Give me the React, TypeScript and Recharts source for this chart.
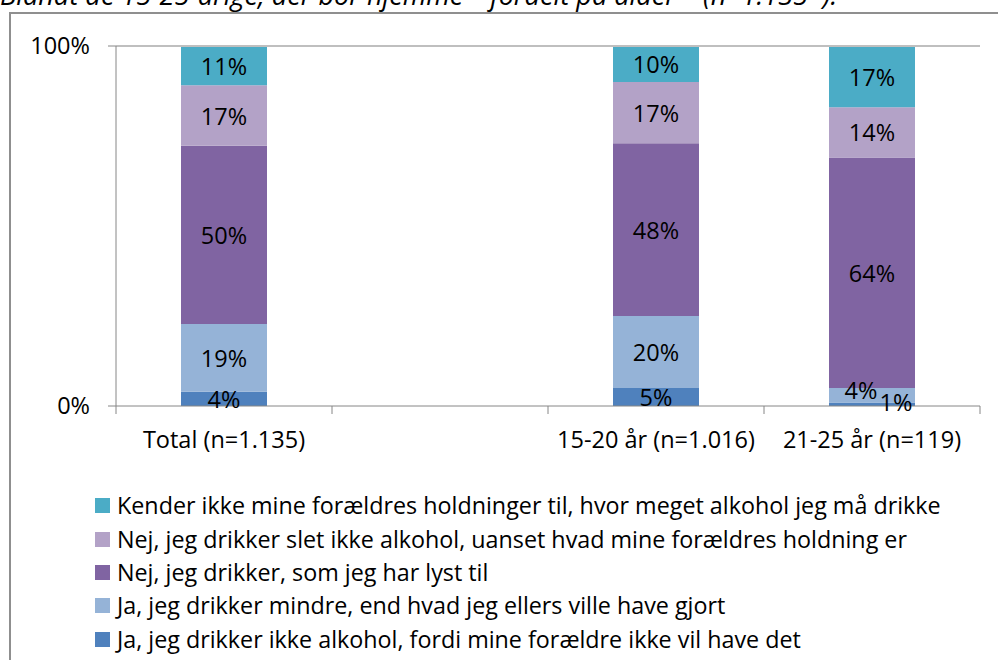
import React from "react";
import {
  Bar,
  BarChart,
  LabelList,
  ReferenceLine,
  XAxis,
  YAxis,
} from "recharts";

const categories = ["Total (n=1.135)", " ", "15-20 år (n=1.016)", "21-25 år (n=119)"];

// bottom -> top of each stack
const ikkeAlkohol = [4, null, 5, 1];
const drikkerMindre = [19, null, 20, 4];
const somLyst = [50, null, 48, 64];
const sletIkke = [17, null, 17, 14];
const kenderIkke = [11, null, 10, 17];

const yTicks = [0, 1];

const series = [
  { key: "ikkeAlkohol", name: "Ja, jeg drikker ikke alkohol, fordi mine forældre ikke vil have det", color: "#4F81BD", values: ikkeAlkohol },
  { key: "drikkerMindre", name: "Ja, jeg drikker mindre, end hvad jeg ellers ville have gjort", color: "#95B3D7", values: drikkerMindre },
  { key: "somLyst", name: "Nej, jeg drikker, som jeg har lyst til", color: "#8064A2", values: somLyst },
  { key: "sletIkke", name: "Nej, jeg drikker slet ikke alkohol, uanset hvad mine forældres holdning er", color: "#B3A2C7", values: sletIkke },
  { key: "kenderIkke", name: "Kender ikke mine forældres holdninger til, hvor meget alkohol jeg må drikke", color: "#4BACC6", values: kenderIkke },
];

const data = categories.map((name, i) => {
  const row: Record<string, string | number | null> = { name };
  series.forEach((s) => (row[s.key] = s.values[i]));
  return row;
});

const FONT = "'Open Sans', Lato, sans-serif";
const FS = 23.5;
const AXIS = "#868686";
const BORDER = "#BFBFBF";

const CHART_W = 998;
const CHART_H = 480;
const MARGIN = { top: 46, right: 18, left: 0, bottom: 0 };
const Y_W = 116;
const X_H = CHART_H - 406 - MARGIN.bottom;
const BAND = (CHART_W - MARGIN.left - MARGIN.right - Y_W) / categories.length;

// nudge the tiny labels in the last bar apart, like the original
const labelNudge: Record<string, Record<number, [number, number]>> = {
  drikkerMindre: { 3: [-11, -5] },
  ikkeAlkohol: { 3: [24, -2] },
};

const makeLabel = (key: string) => (props: any) => {
  const { x, y, width, height, value } = props;
  if (value == null) return null;
  const idx = Math.floor((x + width / 2 - MARGIN.left - Y_W) / BAND);
  const [dx, dy] = labelNudge[key]?.[idx] ?? [0, 0];
  return (
    <text
      x={x + width / 2 + dx}
      y={y + height / 2 + dy}
      textAnchor="middle"
      dominantBaseline="central"
      fontSize={FS}
      fontFamily={FONT}
      fill="#000"
    >
      {value}%
    </text>
  );
};

const CategoryTick = (props: any) => {
  const { x, y, payload, index } = props;
  const left = x - BAND / 2;
  return (
    <g>
      <line x1={left} y1={y - 8} x2={left} y2={y} stroke={AXIS} />
      {index === categories.length - 1 && (
        <line x1={x + BAND / 2} y1={y - 8} x2={x + BAND / 2} y2={y} stroke={AXIS} />
      )}
      <text x={x} y={y + 34} textAnchor="middle" fontSize={FS} fontFamily={FONT} fill="#000">
        {payload.value}
      </text>
    </g>
  );
};

export default function App() {
  return (
    <div style={{ position: "relative", width: 998, height: 660, overflow: "hidden", background: "#fff" }}>
      <style>{`body{margin:0}`}</style>
      <svg width={998} height={20} style={{ position: "absolute", left: 0, top: 0 }}>
        <text x={0} y={5} fontSize={27} fontStyle="italic" fontFamily={FONT} fill="#000">
          Blandt de 15-25-årige, der bor hjemme – fordelt på alder – (n=1.135*):
        </text>
      </svg>
      <div
        style={{
          position: "absolute",
          left: 9,
          top: 12,
          width: 1100,
          height: 800,
          border: "2px solid #8F8F8F",
          boxSizing: "border-box",
        }}
      />
      <div style={{ position: "absolute", left: 0, top: 0 }}>
        <BarChart width={CHART_W} height={CHART_H} data={data} margin={MARGIN} stackOffset="expand" barSize={86}>
          <XAxis
            dataKey="name"
            interval={0}
            tickLine={false}
            tickSize={8}
            tickMargin={0}
            height={X_H}
            axisLine={{ stroke: AXIS }}
            tick={<CategoryTick />}
          />
          <YAxis
            yAxisId="left"
            width={Y_W}
            domain={[0, 1]}
            ticks={yTicks}
            tickFormatter={(v: number) => `${Math.round(v * 100)}%`}
            tick={{ fontSize: FS, fill: "#000", fontFamily: FONT }}
            tickSize={8}
            tickMargin={18}
            tickLine={{ stroke: AXIS }}
            axisLine={{ stroke: AXIS }}
          />
          <YAxis
            yAxisId="right"
            orientation="right"
            width={0}
            domain={[0, 1]}
            tick={false}
            tickLine={false}
            axisLine={{ stroke: BORDER, strokeWidth: 2 }}
          />
          <ReferenceLine yAxisId="left" y={1} stroke={BORDER} strokeWidth={2} />
          {series.map((s) => (
            <Bar
              key={s.key}
              yAxisId="left"
              dataKey={s.key}
              name={s.name}
              stackId="a"
              fill={s.color}
              isAnimationActive={false}
            >
              <LabelList dataKey={s.key} content={makeLabel(s.key)} />
            </Bar>
          ))}
        </BarChart>
      </div>
      <div style={{ position: "absolute", left: 95, top: 489, fontFamily: FONT, fontSize: 23.3, color: "#000" }}>
        {[...series].reverse().map((s) => (
          <div key={s.key} style={{ display: "flex", alignItems: "center", height: 33.4 }}>
            <span style={{ width: 15, height: 15, background: s.color, display: "inline-block", marginRight: 7, flexShrink: 0 }} />
            <span style={{ whiteSpace: "nowrap", lineHeight: "33px" }}>{s.name}</span>
          </div>
        ))}
      </div>
    </div>
  );
}
